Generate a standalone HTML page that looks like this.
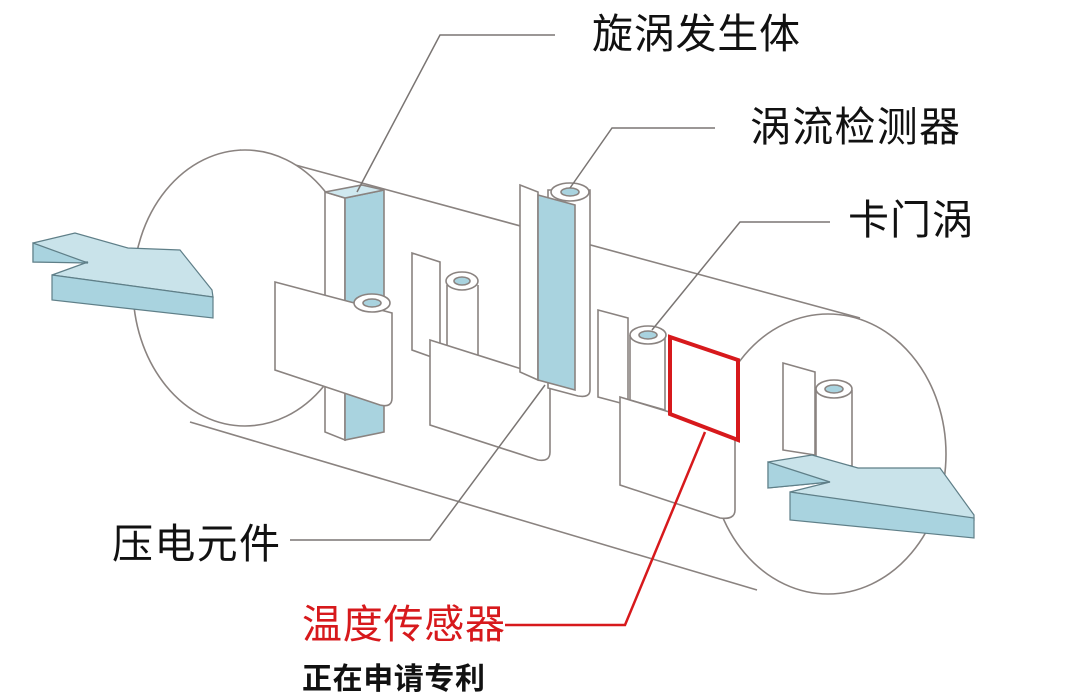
<!DOCTYPE html>
<html><head><meta charset="utf-8"><style>
html,body{margin:0;padding:0;background:#fff;}
svg{display:block}
text{font-family:"Liberation Sans","Noto Sans CJK SC",sans-serif;}
</style></head><body>
<svg width="1074" height="692" viewBox="0 0 1074 692" xmlns="http://www.w3.org/2000/svg">
<g fill="none" stroke="#8a8380" stroke-width="1.6">
<path d="M240,150 L860,318" />
<path d="M190,422 L757,590" />
<ellipse cx="245" cy="288" rx="112" ry="138" fill="#fff"/>
</g>
<g stroke="#8a8380" stroke-width="1.6">
<ellipse cx="828" cy="454" rx="118" ry="140" fill="#fff"/>
</g>
<g stroke="#5f7f88" stroke-width="1.2">
<polygon points="33,243 75,233 128,248 180,250 212,290 213,297 52,275 88,262 33,262" fill="#c9e3ea"/>
<polygon points="33,243 88,263 33,262" fill="#a9d3df"/>
<polygon points="52,275 213,297 213,318 52,300" fill="#a9d3df"/>
</g>
<g stroke="#8a8380" stroke-width="1.6">
<polygon points="325,192 345,198 345,440 325,432" fill="#fff"/>
<polygon points="345,198 384,190 384,432 345,440" fill="#a9d3df"/>
<polygon points="325,192 362,185 384,190 345,198" fill="#cfe8ef"/>
<path d="M275,282 L392,313 L392,398 Q392,408 380,405 L275,370 Z" fill="#fff"/>
<ellipse cx="372" cy="303" rx="18" ry="9" fill="#fff"/>
<ellipse cx="372" cy="303" rx="9" ry="4" fill="#a9d3df"/>
<polygon points="412,253 440,262 440,360 412,350" fill="#fff"/>
<path d="M447,285 L447,350 L478,360 L478,285" fill="#fff"/>
<ellipse cx="462" cy="281" rx="16" ry="9" fill="#fff"/>
<ellipse cx="462" cy="281" rx="8" ry="4" fill="#a9d3df"/>
<path d="M430,340 L550,378 L550,452 Q550,462 538,460 L430,425 Z" fill="#fff"/>
<path d="M520,185 L538,192 L538,380 L520,372 Z" fill="#fff"/>
<path d="M548,190 L590,190 L590,390 Q590,398 578,396 L548,388 Z" fill="#fff"/>
<polygon points="538,195 575,205 575,390 538,380" fill="#a9d3df"/>
<ellipse cx="570" cy="192" rx="19" ry="9" fill="#fff"/>
<ellipse cx="570" cy="192" rx="9" ry="4" fill="#a9d3df"/>
<polygon points="598,310 628,318 628,405 598,397" fill="#fff"/>
<path d="M630,335 L630,400 L665,410 L665,335" fill="#fff"/>
<ellipse cx="648" cy="335" rx="18" ry="9" fill="#fff"/>
<ellipse cx="648" cy="335" rx="9" ry="4" fill="#a9d3df"/>
<path d="M620,397 L735,432 L735,510 Q735,520 720,518 L620,485 Z" fill="#fff"/>
<polygon points="783,363 815,372 815,455 783,450" fill="#fff"/>
<path d="M816,390 L816,462 L852,466 L852,390" fill="#fff"/>
<ellipse cx="834" cy="389" rx="18" ry="9" fill="#fff"/>
<ellipse cx="834" cy="389" rx="9" ry="4" fill="#a9d3df"/>
</g>
<g stroke="#5f7f88" stroke-width="1.2">
<polygon points="768,462 812,455 858,468 940,468 974,515 974,520 790,492 830,482 768,488" fill="#c9e3ea"/>
<polygon points="768,462 830,482 768,488" fill="#a9d3df"/>
<polygon points="790,492 974,518 974,538 790,520" fill="#a9d3df"/>
</g>
<polygon points="670,337 738,360 738,440 670,414" fill="#fff" stroke="#d7191c" stroke-width="4"/>
<g fill="none" stroke="#7a7573" stroke-width="1.5">
<polyline points="555,35 440,35 357,192"/>
<polyline points="715,128 612,128 570,188"/>
<polyline points="830,222 740,222 652,330"/>
<polyline points="290,540 430,540 545,385"/>
</g>
<polyline points="505,625 625,625 705,432" fill="none" stroke="#d7191c" stroke-width="2.5"/>
<g font-size="41" fill="#111">
<text x="592" y="48" textLength="208">旋涡发生体</text>
<text x="750" y="141" textLength="210">涡流检测器</text>
<text x="848" y="234" textLength="125">卡门涡</text>
<text x="112" y="558" textLength="168">压电元件</text>
</g>
<text x="302" y="638" font-size="40" fill="#d7191c" textLength="203">温度传感器</text>
<text x="302" y="689" font-size="30" fill="#111" font-weight="bold" textLength="183">正在申请专利</text>
</svg>
</body></html>
